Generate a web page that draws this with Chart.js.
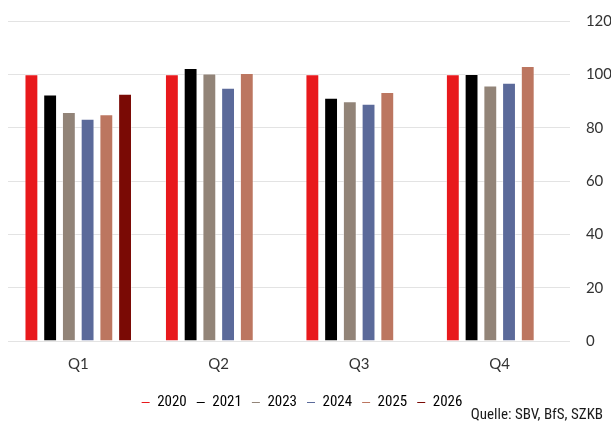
<!DOCTYPE html>
<html lang="de">
<head>
    <meta charset="UTF-8">
    <title>Quartale</title>
    <script src="https://cdn.jsdelivr.net/npm/chart.js"></script>
    <style>
        html, body { margin: 0; padding: 0; background: #fff; overflow: hidden; }
        .wrap { position: relative; width: 636px; height: 431px; margin-top: -4px; }
        .source {
            position: absolute; right: 33px; top: 409px;
            font-family: 'Liberation Sans Narrow', 'Roboto Condensed', 'Liberation Sans', sans-serif;
            font-size: 15px; color: #1a1a1a;
        }
    </style>
</head>
<body>
    <div class="wrap">
        <canvas id="chart"></canvas>
        <div class="source">Quelle: SBV, BfS, SZKB</div>
    </div>

    <script>
        // Daten
        const quarters = ['Q1', 'Q2', 'Q3', 'Q4'];
        const years = ['2020', '2021', '2023', '2024', '2025', '2026'];
        const v2020 = [100, 100, 100, 100];
        const v2021 = [92.4, 102.4, 91.2, 100.1];
        const v2023 = [85.9, 100.3, 89.9, 95.8];
        const v2024 = [83.3, 95.0, 89.0, 96.8];
        const v2025 = [85.0, 100.5, 93.4, 103.1];
        const v2026 = [92.7, null, null, null];
        const colors = ['#e8191c', '#000000', '#928478', '#5b6a9a', '#bc7660', '#7a0a05'];
        const yTicks = [0, 20, 40, 60, 80, 100, 120];

        const series = [v2020, v2021, v2023, v2024, v2025, v2026];

        // Legende etwas nach links schieben (Canvas ist breiter als das Fenster)
        const shiftLegend = {
            id: 'shiftLegend',
            afterLayout(chart) {
                chart.legend.left -= 16;
                chart.legend.right -= 16;
            }
        };

        new Chart(document.getElementById('chart'), {
            type: 'bar',
            data: {
                labels: quarters,
                datasets: series.map((vals, i) => ({
                    label: years[i],
                    data: vals,
                    backgroundColor: colors[i],
                    borderColor: 'rgba(255,255,255,0.45)',
                    borderWidth: 1,
                    categoryPercentage: 0.8,
                    barPercentage: 0.74
                }))
            },
            options: {
                responsive: true,
                maintainAspectRatio: false,
                animation: false,
                layout: { padding: { top: 0, left: 8, right: 8, bottom: 7 } },
                plugins: {
                    tooltip: { enabled: false },
                    legend: {
                        position: 'bottom',
                        labels: {
                            usePointStyle: true,
                            pointStyle: 'line',
                            pointStyleWidth: 8,
                            boxHeight: 8,
                            padding: 10,
                            color: '#1a1a1a',
                            font: { family: "'Liberation Sans Narrow', 'Roboto Condensed', 'Liberation Sans', sans-serif", size: 15 },
                            generateLabels: chart => chart.data.datasets.map((ds, i) => ({
                                text: ds.label,
                                fillStyle: colors[i],
                                strokeStyle: colors[i],
                                lineWidth: 1,
                                pointStyle: 'line',
                                datasetIndex: i,
                                hidden: false
                            }))
                        }
                    }
                },
                scales: {
                    x: {
                        grid: { display: false },
                        border: { display: false },
                        afterFit: axis => { axis.height += 6; },
                        ticks: {
                            padding: 6,
                            color: '#333',
                            font: { family: 'Lato, sans-serif', size: 15 }
                        }
                    },
                    y: {
                        position: 'right',
                        min: 0,
                        max: 120,
                        afterBuildTicks: axis => { axis.ticks = yTicks.map(v => ({ value: v })); },
                        grid: { color: '#e3e3e3', drawTicks: false },
                        border: { display: false },
                        ticks: {
                            padding: 16,
                            color: '#333',
                            font: { family: 'Lato, sans-serif', size: 15 }
                        }
                    }
                }
            },
            plugins: [shiftLegend]
        });
    </script>
</body>
</html>
